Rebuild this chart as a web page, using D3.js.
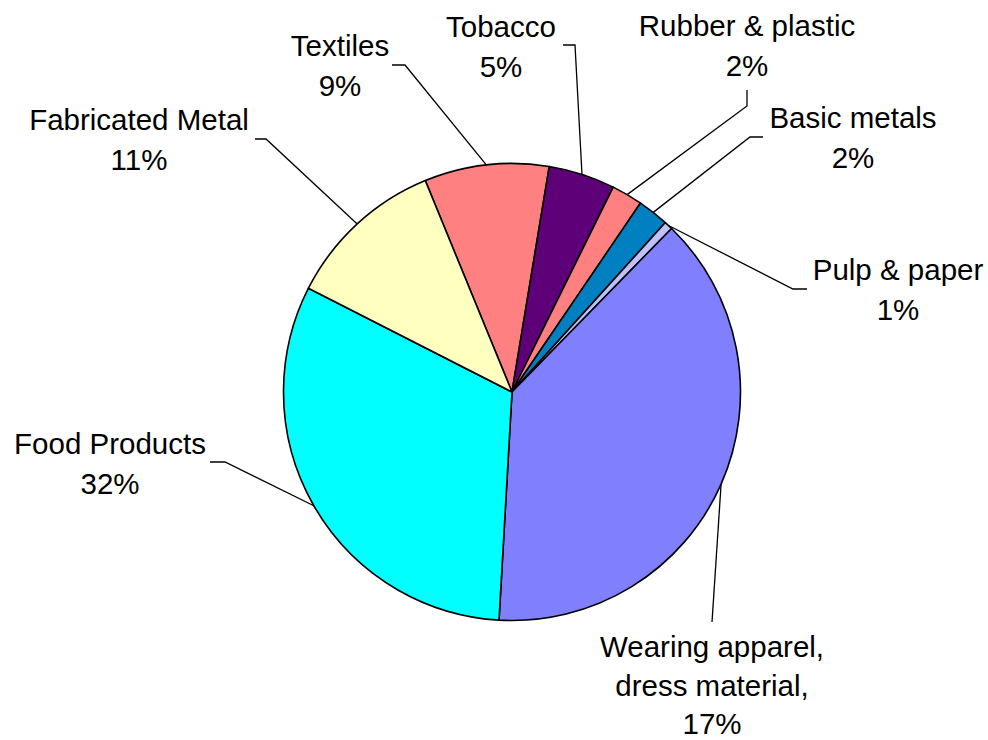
<!DOCTYPE html>
<html>
<head>
<meta charset="utf-8">
<script src="https://cdn.jsdelivr.net/npm/d3@7"></script>
<style>
  html, body { margin: 0; padding: 0; background: #ffffff; }
  svg { display: block; }
  text { font-family: "Liberation Sans", Arial, sans-serif; fill: #000; }
</style>
</head>
<body>
<svg id="chart" width="988" height="740"></svg>
<script>
// Industry shares (percent of total), clockwise from the Textiles slice
const categories = ["Textiles", "Tobacco", "Rubber & plastic", "Basic metals",
                    "Pulp & paper", "Wearing apparel, dress material",
                    "Food Products", "Fabricated Metal"];
const shares = [8.8, 4.7, 2.2, 2.2, 0.6, 38.6, 31.6, 11.3];

// Label text, line by line
const labelLines = [
  ["Textiles", "9%"],
  ["Tobacco", "5%"],
  ["Rubber & plastic", "2%"],
  ["Basic metals", "2%"],
  ["Pulp & paper", "1%"],
  ["Wearing apparel,", "dress material,", "17%"],
  ["Food Products", "32%"],
  ["Fabricated Metal", "11%"]
];

const sliceColors = ["#FF8080", "#5E0078", "#FF8080", "#0080C0",
                     "#C0C0FF", "#8080FF", "#00FFFF", "#FFFFC0"];

// Label placement: text centre / first baseline / line spacing,
// and leader-line points near the label
const labelLayout = [
  { x: 340, y: 56,  lh: 40,   leader: [[392, 65], [405, 65]] },
  { x: 501, y: 37,  lh: 40,   leader: [[563, 45], [575, 45]] },
  { x: 747, y: 36,  lh: 40,   leader: [[747, 90], [747, 106]] },
  { x: 853, y: 128, lh: 40,   leader: [[763, 137], [750, 137]] },
  { x: 898, y: 280, lh: 40,   leader: [[807, 289], [793, 289]] },
  { x: 712, y: 657, lh: 38.5, leader: [[712, 622]] },
  { x: 110, y: 454, lh: 39.5, leader: [[210, 462], [225, 462]] },
  { x: 139, y: 130, lh: 39.5, leader: [[255, 139], [266, 139]] }
];

const cx = 512, cy = 392, radius = 228.5;
const fontSize = 29.5;
const deg = Math.PI / 180;
const startAngle = -22.3 * deg;

const svg = d3.select("#chart");
const g = svg.append("g").attr("transform", `translate(${cx},${cy})`);

const pie = d3.pie()
  .sort(null)
  .value(d => d)
  .startAngle(startAngle)
  .endAngle(startAngle + 2 * Math.PI);

const arcs = pie(shares);
const arc = d3.arc().innerRadius(0).outerRadius(radius);

g.selectAll("path.slice")
  .data(arcs)
  .join("path")
  .attr("class", "slice")
  .attr("d", arc)
  .attr("fill", (d, i) => sliceColors[i])
  .attr("stroke", "#000")
  .attr("stroke-width", 1.6)
  .attr("stroke-linejoin", "round");

// Leader lines run from the label to the middle of the slice's outer edge
const line = d3.line();
svg.selectAll("path.leader")
  .data(arcs)
  .join("path")
  .attr("class", "leader")
  .attr("d", (d, i) => {
    const mid = (d.startAngle + d.endAngle) / 2;
    const edge = [cx + radius * Math.sin(mid), cy - radius * Math.cos(mid)];
    return line([...labelLayout[i].leader, edge]);
  })
  .attr("fill", "none")
  .attr("stroke", "#000")
  .attr("stroke-width", 1.3);

const labels = svg.selectAll("text.label")
  .data(labelLines)
  .join("text")
  .attr("class", "label")
  .attr("text-anchor", "middle")
  .attr("font-size", fontSize);

labels.selectAll("tspan")
  .data((lines, i) => lines.map((t, k) => ({ t, k, i })))
  .join("tspan")
  .attr("x", d => labelLayout[d.i].x)
  .attr("y", d => labelLayout[d.i].y + d.k * labelLayout[d.i].lh)
  .text(d => d.t);
</script>
</body>
</html>
